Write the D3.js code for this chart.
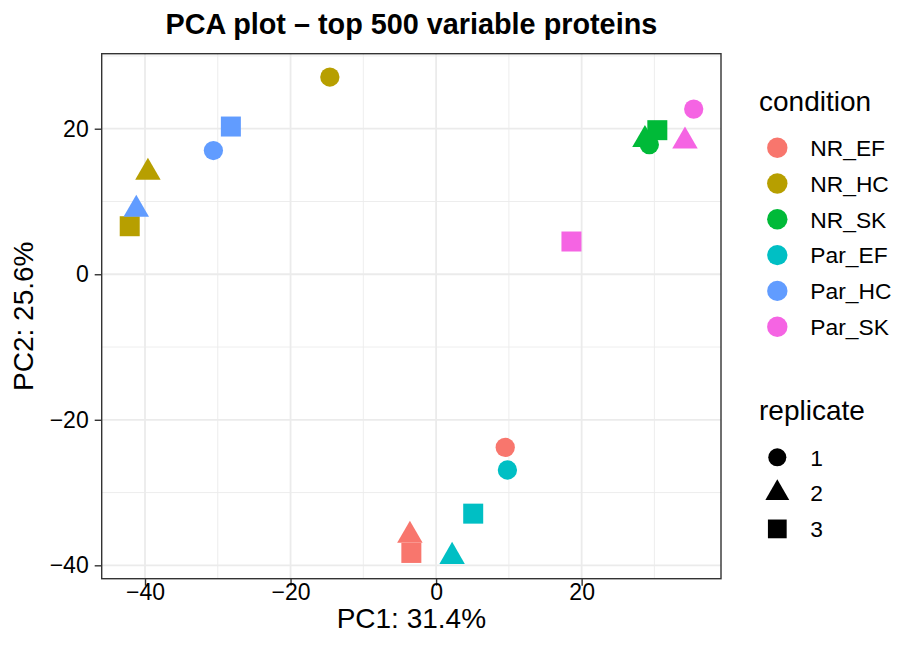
<!DOCTYPE html>
<html lang="en">
<head>
<meta charset="utf-8">
<title>PCA plot</title>
<script src="https://cdn.jsdelivr.net/npm/d3@7"></script>
<style>
    body {
        margin: 0;
        background: white;
    }
    text {
        font-family: "Liberation Sans", Arial, Helvetica, sans-serif;
    }
    .grid line {
        stroke: #ebebeb;
    }
    .axis path {
        display: none;
    }
    .axis line {
        stroke: #333333;
        stroke-width: 1.4;
    }
    .axis text {
        font-size: 23px;
        fill: black;
    }
</style>
</head>
<body>
<div id="chart"></div>
<script>

// conditions and replicates, in plotting order
var conditions = ["NR_EF", "NR_HC", "NR_SK", "Par_EF", "Par_HC", "Par_SK"];
var colors = ["#F8766D", "#B79F00", "#00BA38", "#00BFC4", "#619CFF", "#F564E3"];
var replicates = ["1", "2", "3"];

// PC scores, one array per condition, index = replicate
var pc1_NR_EF = [9.5, -3.6, -3.4];
var pc2_NR_EF = [-23.8, -35.9, -38.3];
var pc1_NR_HC = [-14.6, -39.6, -42.1];
var pc2_NR_HC = [27.1, 14.0, 6.6];
var pc1_NR_SK = [29.3, 28.7, 30.4];
var pc2_NR_SK = [17.8, 18.5, 19.8];
var pc1_Par_EF = [9.8, 2.2, 5.1];
var pc2_Par_EF = [-26.9, -38.8, -32.9];
var pc1_Par_HC = [-30.6, -41.2, -28.2];
var pc2_Par_HC = [17.0, 8.9, 20.3];
var pc1_Par_SK = [35.4, 34.2, 18.6];
var pc2_Par_SK = [22.7, 18.3, 4.5];

var pc1 = [pc1_NR_EF, pc1_NR_HC, pc1_NR_SK, pc1_Par_EF, pc1_Par_HC, pc1_Par_SK];
var pc2 = [pc2_NR_EF, pc2_NR_HC, pc2_NR_SK, pc2_Par_EF, pc2_Par_HC, pc2_Par_SK];

var xTicks = [-40, -20, 0, 20];
var yTicks = [-40, -20, 0, 20];
var xMinor = [-30, -10, 10, 30];
var yMinor = [-30, -10, 10, 30];

var data = [];
for (var i = 0; i < conditions.length; i++) {
    for (var j = 0; j < replicates.length; j++) {
        data.push({condition: conditions[i], replicate: replicates[j], x: pc1[i][j], y: pc2[i][j]});
    }
}

var width = 899, height = 645;
var panel = {left: 101.7, top: 53.7, right: 721, bottom: 578.7};

var svg = d3.select("#chart").append("svg")
    .attr("width", width)
    .attr("height", height);

var x_scale = d3.scaleLinear()
    .domain([-45.95, 39.15])
    .range([panel.left, panel.right]);

var y_scale = d3.scaleLinear()
    .domain([-41.84, 30.31])
    .range([panel.bottom, panel.top]);

var color = d3.scaleOrdinal().domain(conditions).range(colors);
var shape = d3.scaleOrdinal().domain(replicates)
    .range([d3.symbolCircle, d3.symbolTriangle, d3.symbolSquare]);
var shapeSize = d3.scaleOrdinal().domain(replicates).range([292, 281, 400]);

// grid lines
var grid = svg.append("g").attr("class", "grid");

grid.selectAll(".xminor").data(xMinor).enter().append("line")
    .attr("x1", function(d) { return x_scale(d); })
    .attr("x2", function(d) { return x_scale(d); })
    .attr("y1", panel.top).attr("y2", panel.bottom)
    .attr("stroke-width", 0.9);

grid.selectAll(".yminor").data(yMinor).enter().append("line")
    .attr("y1", function(d) { return y_scale(d); })
    .attr("y2", function(d) { return y_scale(d); })
    .attr("x1", panel.left).attr("x2", panel.right)
    .attr("stroke-width", 0.9);

grid.selectAll(".xmajor").data(xTicks).enter().append("line")
    .attr("x1", function(d) { return x_scale(d); })
    .attr("x2", function(d) { return x_scale(d); })
    .attr("y1", panel.top).attr("y2", panel.bottom)
    .attr("stroke-width", 1.8);

grid.selectAll(".ymajor").data(yTicks).enter().append("line")
    .attr("y1", function(d) { return y_scale(d); })
    .attr("y2", function(d) { return y_scale(d); })
    .attr("x1", panel.left).attr("x2", panel.right)
    .attr("stroke-width", 1.8);

// axes
var tickFormat = function(d) { return d < 0 ? "\u2212" + Math.abs(d) : d; };

svg.append("g")
    .attr("class", "axis")
    .attr("transform", "translate(0," + panel.bottom + ")")
    .call(d3.axisBottom(x_scale).tickValues(xTicks).tickSize(7).tickPadding(-2).tickFormat(tickFormat));

svg.append("g")
    .attr("class", "axis")
    .attr("transform", "translate(" + panel.left + ",0)")
    .call(d3.axisLeft(y_scale).tickValues(yTicks).tickSize(7).tickPadding(6).tickFormat(tickFormat));

// points
svg.append("g").selectAll("path")
    .data(data)
    .enter()
    .append("path")
    .attr("transform", function(d) { return "translate(" + x_scale(d.x) + "," + y_scale(d.y) + ")"; })
    .attr("d", function(d) { return d3.symbol().type(shape(d.replicate)).size(shapeSize(d.replicate))(); })
    .attr("fill", function(d) { return color(d.condition); });

// panel border
svg.append("rect")
    .attr("x", panel.left).attr("y", panel.top)
    .attr("width", panel.right - panel.left)
    .attr("height", panel.bottom - panel.top)
    .attr("fill", "none")
    .attr("stroke", "#333333")
    .attr("stroke-width", 1.4);

// title and axis labels
svg.append("text")
    .attr("x", (panel.left + panel.right) / 2)
    .attr("y", 34)
    .attr("text-anchor", "middle")
    .style("font-size", "28.8px")
    .style("font-weight", "bold")
    .text("PCA plot \u2013 top 500 variable proteins");

svg.append("text")
    .attr("x", (panel.left + panel.right) / 2)
    .attr("y", 628)
    .attr("text-anchor", "middle")
    .style("font-size", "28px")
    .text("PC1: 31.4%");

svg.append("text")
    .attr("transform", "translate(33," + (panel.top + panel.bottom) / 2 + ") rotate(-90)")
    .attr("text-anchor", "middle")
    .style("font-size", "28px")
    .text("PC2: 25.6%");

// legend: condition
var legend = svg.append("g");

legend.append("text")
    .attr("x", 759).attr("y", 111)
    .style("font-size", "28px")
    .text("condition");

var condKeys = legend.selectAll(".cond")
    .data(conditions)
    .enter()
    .append("g")
    .attr("transform", function(d, i) { return "translate(777.3," + (147.7 + i * 35.8) + ")"; });

condKeys.append("circle")
    .attr("r", 10.2)
    .attr("fill", function(d) { return color(d); });

condKeys.append("text")
    .attr("x", 33)
    .attr("dy", "0.36em")
    .style("font-size", "22.8px")
    .text(function(d) { return d; });

// legend: replicate
legend.append("text")
    .attr("x", 759).attr("y", 420)
    .style("font-size", "28px")
    .text("replicate");

var repKeys = legend.selectAll(".rep")
    .data(replicates)
    .enter()
    .append("g")
    .attr("transform", function(d, i) { return "translate(777.3," + (457.3 + i * 35.8) + ")"; });

repKeys.append("path")
    .attr("d", function(d) { return d3.symbol().type(shape(d)).size(shapeSize(d) * 0.88)(); })
    .attr("fill", "black");

repKeys.append("text")
    .attr("x", 33)
    .attr("dy", "0.36em")
    .style("font-size", "22.8px")
    .text(function(d) { return d; });

</script>
</body>
</html>
